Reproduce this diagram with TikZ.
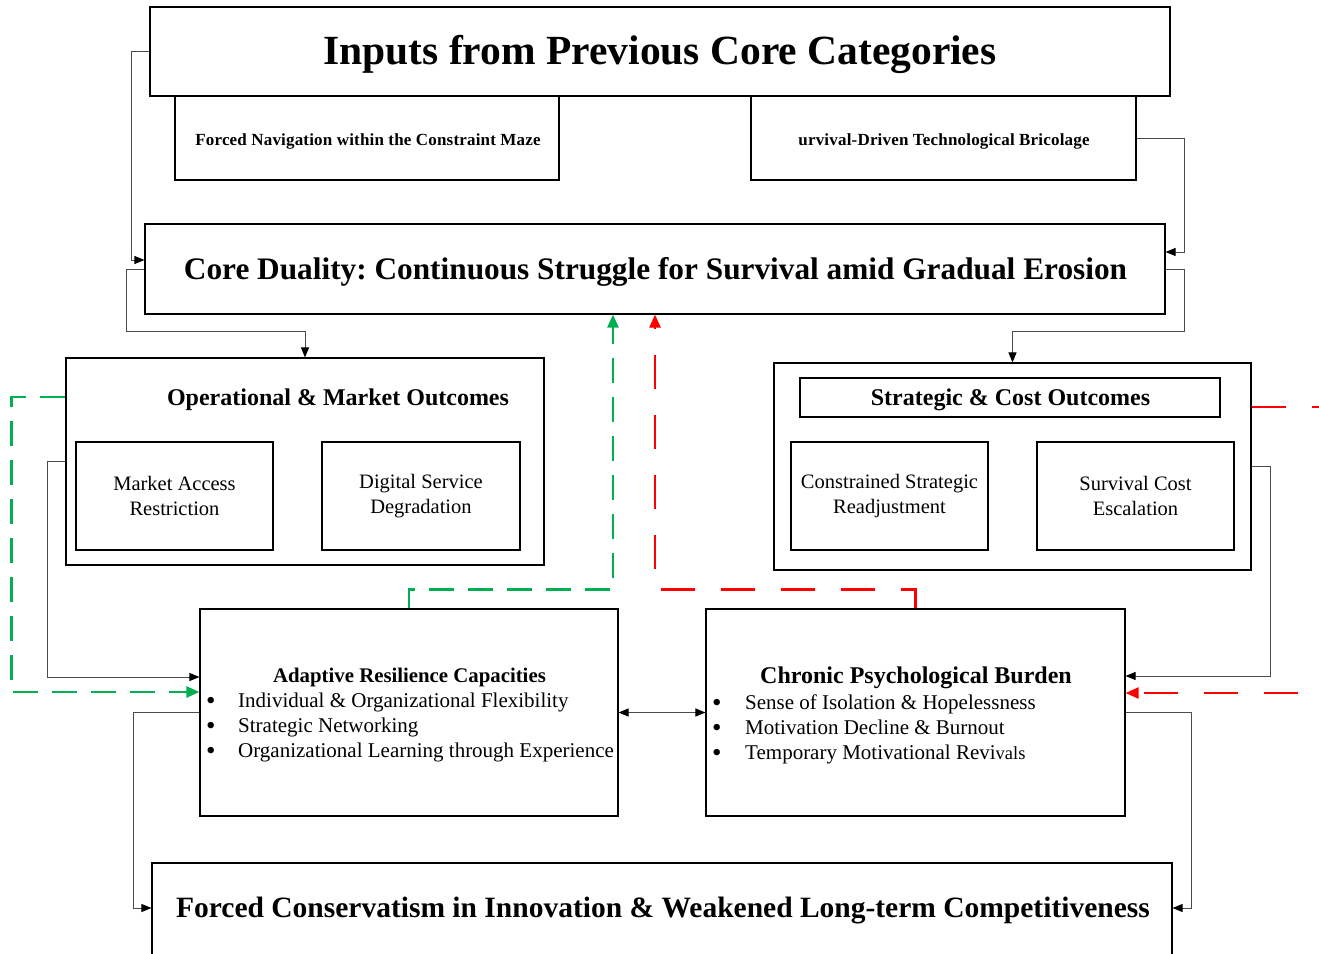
\documentclass[tikz,border=0pt]{standalone}
\usepackage{fontspec}
\setmainfont{Liberation Serif}
\newfontfamily\spacedserif[LetterSpace=1.1]{Liberation Serif}
\frenchspacing
\usetikzlibrary{arrows.meta}
\definecolor{dgreen}{RGB}{0,176,80}
\definecolor{dred}{RGB}{255,0,0}
\tikzset{
  box/.style={draw=black, line width=1.1pt, inner sep=0pt, fill=none},
  txt/.style={inner sep=0pt, align=center},
  conn/.style={draw=black!70, line width=1pt},
  arr/.style={-{Triangle[length=10pt,width=8pt,color=black]}},
  barr/.style={{Triangle[length=10pt,width=8pt,color=black]}-{Triangle[length=10pt,width=8pt,color=black]}},
  gdash/.style={draw=dgreen, line width=2.4pt, dash pattern=on 25pt off 14pt},
  rdash/.style={draw=dred, line width=2.4pt, dash pattern=on 34pt off 26pt},
  carr/.style={-{Triangle[length=13pt,width=11pt]}},
  bul/.style={inner sep=0pt, anchor=base west, font=\fontsize{21}{24}\selectfont},
  bdot/.style={inner sep=0pt, anchor=base west, font=\fontsize{27}{30}\selectfont}
}
\begin{document}
\begin{tikzpicture}[x=1pt,y=-1pt]
\useasboundingbox (0,0) rectangle (1319,953);
\clip (0,0) rectangle (1319,953);
\fill[white] (0,0) rectangle (1319,953);

% boxes
\node[box, minimum width=1020pt, minimum height=89pt] (inputs) at (660,51.5) {};
\node[txt, font=\fontsize{41.5}{46}\selectfont\bfseries] (inputst) at (660,54) {Inputs from Previous Core Categories};
\node[box, minimum width=384pt, minimum height=84pt] (forced) at (367,138) {};
\node[txt, font=\spacedserif\fontsize{17}{20}\selectfont\bfseries] (forcedt) at (368,141) {Forced Navigation within the Constraint Maze};
\node[box, minimum width=385pt, minimum height=84pt] (urv) at (943.5,138) {};
\node[txt, font=\spacedserif\fontsize{17}{20}\selectfont\bfseries] (urvt) at (944,141) {urvival-Driven Technological Bricolage};

\node[box, minimum width=1020pt, minimum height=90pt] (core) at (655,269) {};
\node[txt, font=\fontsize{31.3}{36}\selectfont\bfseries] (coret) at (655.5,272) {Core Duality: Continuous Struggle for Survival amid Gradual Erosion};

\node[box, minimum width=478pt, minimum height=207pt] (ops) at (305,461.5) {};
\node[txt, font=\fontsize{24}{28}\selectfont\bfseries] (opst) at (338,400) {Operational \& Market Outcomes};
\node[box, minimum width=197pt, minimum height=108pt, align=center, font=\fontsize{20.5}{25}\selectfont] (mar) at (174.5,496) {Market Access\\Restriction};
\node[box, minimum width=198pt, minimum height=108pt, align=center, font=\fontsize{20.5}{25}\selectfont] (dig) at (421,496) {Digital Service\\Degradation};

\node[box, minimum width=477pt, minimum height=207pt] (strat) at (1012.5,466.5) {};
\node[box, minimum width=420pt, minimum height=39pt] (stratb) at (1010,397.5) {};
\node[txt, font=\fontsize{24}{28}\selectfont\bfseries] (stratt) at (1010.5,400) {Strategic \& Cost Outcomes};
\node[box, minimum width=197pt, minimum height=108pt, align=center, font=\fontsize{20.5}{25}\selectfont] (con) at (889.5,496) {Constrained Strategic\\Readjustment};
\node[box, minimum width=197pt, minimum height=108pt, align=center, font=\fontsize{20.5}{25}\selectfont] (surv) at (1135.5,496) {Survival Cost\\Escalation};

\node[box, minimum width=418pt, minimum height=207pt] (adapt) at (409,712.5) {};
\node[txt, font=\fontsize{20.8}{24}\selectfont\bfseries] (adaptt) at (409.5,677.5) {Adaptive Resilience Capacities};
\node[bdot] (a1b) at (206,709) {•};
\node[bul] (a1) at (238,707) {Individual \& Organizational Flexibility};
\node[bdot] (a2b) at (206,734) {•};
\node[bul] (a2) at (238,732) {Strategic Networking};
\node[bdot] (a3b) at (206,759) {•};
\node[bul] (a3) at (238,757) {Organizational Learning through Experience};

\node[box, minimum width=419pt, minimum height=207pt] (chron) at (915.5,712.5) {};
\node[txt, font=\fontsize{24}{28}\selectfont\bfseries] (chront) at (916,678) {Chronic Psychological Burden};
\node[bdot] (c1b) at (712,711) {•};
\node[bul] (c1) at (745,709) {Sense of Isolation \& Hopelessness};
\node[bdot] (c2b) at (712,736) {•};
\node[bul] (c2) at (745,734) {Motivation Decline \& Burnout};
\node[bdot] (c3b) at (712,761) {•};
\node[bul] (c3) at (745,759) {Temporary Motivational Revi{\fontsize{18.5}{22}\selectfont vals}};

\node[box, minimum width=1020pt, minimum height=137pt] (bottom) at (662,931.5) {};
\node[txt, font=\fontsize{29.5}{34}\selectfont\bfseries] (bottomt) at (663,911) {Forced Conservatism in Innovation \& Weakened Long-term Competitiveness};

% black connectors
\draw[conn, arr] (inputs.west) -- ++(-18,0) |- ([yshift=9pt]core.west);
\draw[conn, arr] (urv.east) -- ++(48,0) |- ([yshift=17pt]core.east);
\draw[conn, arr] (core.west) -- ++(-18,0) |- ([yshift=26pt]ops.north) -- (ops.north);
\draw[conn, arr] (core.east) -- ++(19,0) |- ([yshift=31pt]strat.north) -- (strat.north);
\draw[conn, arr] (ops.west) -- ++(-18,0) |- ([yshift=35.5pt]adapt.west);
\draw[conn, arr] (strat.east) -- ++(19,0) |- ([yshift=36.5pt]chron.east);
\draw[conn, arr] (adapt.west) -- ++(-66,0) |- ([yshift=23.5pt]bottom.west);
\draw[conn, arr] (chron.east) -- ++(66,0) |- ([yshift=23.5pt]bottom.east);
\draw[conn, barr] (adapt.east) -- (chron.west);

% coloured dashed connectors
\draw[gdash, carr] ([yshift=64.5pt]ops.west) -- ++(-54,0) |- ([yshift=20.5pt]adapt.west);
\draw[gdash, carr] (adapt.north) -- ++(0,-19) -| ([xshift=-42pt]core.south);
\draw[rdash, carr] (chron.north) -- ++(0,-19) -| (core.south);
\draw[rdash, carr] ([yshift=59.5pt]strat.east) -- ++(90,0) |- ([yshift=19.5pt]chron.east);
\end{tikzpicture}
\end{document}
